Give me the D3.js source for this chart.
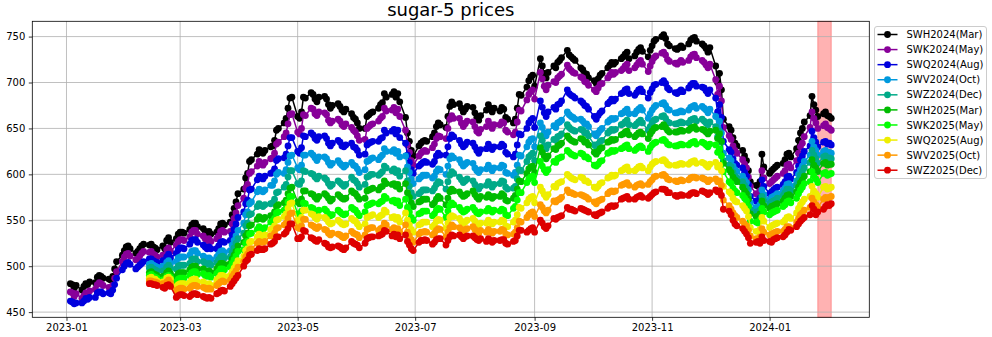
<!DOCTYPE html>
<html><head><meta charset="utf-8">
<script src="https://cdn.jsdelivr.net/npm/d3@7"></script>
<style>
body{margin:0;background:#fff}
svg{display:block}
text{font-family:"DejaVu Sans",sans-serif}
</style>
</head><body>
<svg id="chart" width="992" height="337"></svg>
<script>
const titleText = "sugar-5 prices";
const seriesNames = ["SWH2024(Mar)","SWK2024(May)","SWQ2024(Aug)","SWV2024(Oct)","SWZ2024(Dec)","SWH2025(Mar)","SWK2025(May)","SWQ2025(Aug)","SWV2025(Oct)","SWZ2025(Dec)"];
const seriesColors = ["#000000","#880099","#0000dd","#0099dd","#00aa88","#00bb00","#00ff00","#eeee00","#ff9900","#dd0000"];
const firstDay = "2023-01-03";   // first trading day (weekdays to lastDay)
const lastDay = "2024-02-02";
const spanStart = "2024-01-26";
const spanEnd = "2024-02-02";
const yTicks = [450,500,550,600,650,700,750];
const xTickLabels = ["2023-01","2023-03","2023-05","2023-07","2023-09","2023-11","2024-01"];

const SWH2024 = [
481,480,476,479, 474,478,481,480,483, 482,488,490,489,487, 486,485,489,497,505, 512,517,521,522,519,
514,516,519,522,524, 523,524,521,520,518, 522,519,528,531,526, 530,535,537,537,536, 540,545,547,547,543,
541,538,536,538,535, 537,541,546,547,545, 548,556,563,570,579, 584,596,601,614,616, 622,627,624,623,626,
630,631,637,648,650, 656,661,672,683,684, 663,661,668,684,683, 689,687,682,679,684, 685,682,676,672,675,
677,674,670,668,671, 666,662,660,656,650, 650,663,665,667,668, 672,676,678,688,684, 687,690,684,688,679,
662,645,636,626,620, 631,634,636,637,636, 641,645,652,656,654, 651,663,674,679,676, 677,672,668,671,674,
673,667,662,659,664, 670,676,672,668,672, 669,673,671,662,660, 656,660,672,687,686, 695,702,706,708,696,
726,718,710,705,711, 718,716,722,724,727, 735,730,728,726,724, 716,714,710,709,705, 702,699,704,708,710,
716,719,722,720,722, 726,728,731,733,726, 729,733,736,738,734, 728,735,740,745,747, 750,752,748,742,740,
737,736,738,740,738, 742,746,748,749,745, 742,740,737,733,738, 718,700,710,692,660, 652,648,640,634,631,
626,620,615,604,592, 588,587,592,622,608, 601,604,606,608,610, 612,616,622,623,619, 628,637,645,650,657,
664,685,676,670,663, 666,668,664,663,661
];
const SWK2024 = [
472,471,467,470, 465,468,471,470,473, 475,480,482,481,479, 477,476,479,487,494, 505,510,513,514,511,
507,508,511,514,516, 515,516,513,512,510, 512,510,518,520,516, 523,527,529,529,528, 532,537,539,539,535,
533,530,528,530,527, 530,533,538,539,537, 538,546,552,558,566, 574,585,589,601,603, 609,614,611,610,613,
617,618,623,633,635, 641,645,655,665,666, 646,644,650,665,664, 672,671,666,664,668, 667,665,659,656,658,
660,658,654,652,655, 651,648,646,642,637, 638,650,652,654,655, 658,661,663,672,669, 670,673,667,671,663,
648,632,624,615,610, 620,623,625,626,625, 629,633,639,642,641, 639,650,660,664,661, 661,656,652,655,658,
657,652,647,645,649, 652,658,654,650,654, 654,657,656,648,646, 643,646,657,670,669, 681,687,690,692,682,
711,704,696,692,697, 701,700,705,707,709, 719,715,713,711,710, 706,705,701,700,697, 692,690,694,698,699,
705,708,711,709,711, 713,715,718,720,713, 716,719,722,724,720, 712,718,723,727,729, 732,733,730,725,723,
721,720,722,724,722, 724,728,730,731,727, 724,722,719,716,720, 703,687,696,680,651, 642,638,631,626,623,
616,611,607,597,587, 579,578,582,604,596, 590,592,594,596,598, 601,604,610,611,607, 615,623,630,634,641,
651,668,661,656,650, 653,655,651,650,648
];
const SWQ2024 = [
462,461,459,460, 460,462,465,464,466, 466,471,472,472,470, 471,470,474,480,487, 496,500,503,504,502,
497,499,501,503,505, 508,508,506,505,504, 506,503,510,513,509, 514,518,520,520,519, 524,528,529,529,526,
523,521,519,521,519, 519,522,526,527,526, 528,534,540,546,553, 559,568,572,583,584, 594,598,596,595,598,
601,602,606,615,617, 618,622,631,640,640, 625,623,629,642,641, 645,643,639,637,641, 642,639,634,631,634,
637,635,631,630,632, 634,630,629,626,621, 622,632,634,635,636, 636,639,640,648,645, 647,649,644,648,640,
634,621,613,605,601, 609,611,613,614,613, 611,614,620,623,621, 621,630,639,643,641, 637,633,630,632,635,
634,630,626,623,627, 628,633,630,627,630, 630,633,631,624,622, 619,622,632,644,643, 650,656,659,661,651,
680,673,667,663,668, 673,671,676,677,680, 692,688,686,685,683, 680,678,675,674,671, 663,660,664,667,669,
677,679,682,680,682, 688,689,692,693,688, 686,689,692,693,690, 683,689,693,697,698, 700,702,699,694,692,
689,688,690,692,690, 694,697,699,699,696, 695,694,691,688,692, 683,668,676,662,636, 627,624,617,612,610,
607,602,598,589,576, 571,570,574,594,587, 579,581,583,585,586, 589,592,597,598,595, 602,609,616,620,625,
631,647,640,635,630, 635,636,633,634,632
];
const SWV2024 = [
502,503,501,500,499, 500,498,504,506,503, 505,509,510,510,510, 512,516,517,517,514, 511,509,508,509,507,
510,513,516,517,515, 517,523,528,533,539, 547,556,559,568,570, 581,584,582,581,583, 588,588,593,600,602,
601,605,613,620,621, 607,605,610,621,621, 623,621,618,615,619, 619,617,613,610,612, 615,612,610,608,610,
613,610,609,606,602, 605,614,615,617,618, 616,619,621,628,625, 625,627,623,625,619, 620,608,602,595,590,
595,597,599,599,599, 596,598,603,606,605, 600,609,617,620,618, 616,612,609,611,613, 612,607,604,602,605,
606,610,607,604,607, 607,610,609,602,601, 599,602,610,621,620, 630,635,638,639,630, 656,651,645,642,646,
653,651,656,657,659, 668,665,663,662,660, 660,658,655,655,652, 644,642,645,648,650, 657,659,661,660,661,
666,667,669,671,666, 666,669,671,673,670, 661,666,670,673,675, 677,678,675,671,670, 667,667,668,669,668,
670,673,674,675,672, 674,672,670,667,671, 663,651,658,645,623, 618,615,609,605,603, 598,594,591,583,569,
564,564,567,583,578, 572,575,576,577,579, 582,585,589,590,587, 593,600,605,609,614, 621,636,630,626,621,
625,626,623,624,623
];
const SWZ2024 = [
498,499,497,496,495, 495,493,499,501,498, 497,500,501,501,501, 503,507,508,508,505, 505,503,502,503,501,
504,507,510,511,509, 510,515,520,525,530, 536,544,547,556,557, 565,568,566,565,567, 568,569,573,580,581,
586,589,597,604,604, 590,589,593,604,603, 601,600,597,595,598, 596,594,590,587,589, 593,591,589,587,589,
597,594,593,590,586, 589,597,598,600,600, 599,601,603,609,607, 604,606,602,604,598, 604,593,587,580,576,
579,581,583,583,583, 582,585,589,592,591, 584,592,599,603,601, 597,594,591,593,595, 593,589,586,584,587,
588,592,589,586,589, 590,593,592,586,584, 585,587,595,605,604, 614,619,621,623,615, 642,637,631,628,632,
638,637,641,642,644, 654,651,649,648,647, 649,648,645,645,642, 632,630,633,636,637, 645,647,649,648,649,
654,655,657,659,654, 653,655,657,659,656, 648,652,656,659,660, 663,664,661,657,656, 655,655,656,657,656,
656,659,660,661,658, 660,658,656,654,657, 652,641,647,635,615, 610,608,602,598,596, 592,588,585,577,562,
559,558,561,576,572, 568,570,571,572,574, 577,580,584,584,582, 588,594,599,603,607, 613,626,621,617,612,
619,620,617,618,617
];
const SWH2025 = [
493,494,492,491,490, 489,487,493,495,492, 489,492,493,493,493, 496,499,500,500,497, 497,495,494,495,493,
497,500,503,503,502, 503,508,512,516,522, 526,533,536,544,545, 551,554,552,551,553, 555,555,559,565,567,
569,572,579,585,586, 570,568,573,582,582, 579,578,575,573,576, 579,577,574,571,573, 578,576,574,573,574,
582,580,579,576,573, 574,582,583,584,585, 583,586,587,593,590, 589,590,587,589,584, 590,580,575,569,565,
570,571,573,573,573, 567,569,573,576,574, 567,574,581,584,582, 581,578,576,577,579, 582,578,575,573,576,
575,578,576,574,576, 576,579,577,572,571, 574,577,584,593,592, 601,606,608,609,602, 629,624,620,617,620,
628,627,631,632,634, 642,639,637,636,635, 639,638,635,635,632, 624,622,625,628,629, 635,636,638,637,638,
643,644,646,647,643, 641,643,645,646,644, 639,644,647,650,651, 652,654,651,648,646, 646,646,647,648,647,
648,650,651,652,649, 649,648,646,644,647, 648,639,644,636,612, 605,602,597,594,592, 586,582,579,573,557,
554,554,557,571,566, 563,565,566,567,568, 571,574,577,578,576, 581,586,591,594,598, 603,616,610,607,603,
612,613,610,611,611
];
const SWK2025 = [
490,491,489,488,487, 485,484,489,490,488, 483,486,487,487,487, 490,493,494,494,491, 492,490,489,490,488,
492,494,497,497,496, 499,503,507,511,516, 518,525,527,535,536, 540,543,541,540,542, 548,549,552,558,559,
561,563,570,576,576, 557,556,560,569,568, 564,563,560,558,561, 562,560,557,555,556, 561,559,557,556,557,
564,562,561,558,555, 559,566,567,568,569, 568,570,571,576,574, 571,572,569,571,566, 573,564,559,553,550,
557,558,560,560,560, 555,557,561,563,562, 553,560,566,569,567, 564,561,559,560,562, 564,561,558,557,559,
560,563,561,559,561, 560,562,561,556,555, 563,565,572,580,580, 591,595,597,598,591, 614,609,605,602,605,
614,613,617,618,619, 626,624,622,621,620, 623,622,619,619,617, 610,609,611,614,615, 623,624,626,625,626,
628,629,631,632,628, 626,628,630,631,629, 625,629,632,634,635, 637,638,636,633,632, 631,631,632,633,632,
632,634,635,636,633, 635,634,632,630,633, 632,624,628,620,603, 592,590,585,582,580, 577,574,571,565,549,
548,547,550,563,559, 556,558,559,560,561, 565,567,570,571,569, 574,579,583,586,590, 592,603,598,595,591,
601,602,599,600,601
];
const SWQ2025 = [
487,488,486,486,484, 483,482,487,488,486, 477,480,481,481,481, 482,485,486,486,483, 483,481,480,481,479,
485,487,490,490,489, 490,494,498,502,506, 511,517,519,526,527, 532,535,533,532,534, 540,541,544,550,551,
554,557,563,568,569, 550,549,553,561,561, 557,556,553,551,554, 553,551,548,546,547, 550,548,546,545,546,
552,550,549,546,543, 546,553,554,555,556, 553,555,556,561,559, 553,554,551,553,548, 558,550,545,540,537,
545,546,548,548,548, 543,545,549,551,550, 541,547,553,555,554, 552,549,547,548,550, 552,549,546,545,547,
547,550,548,546,548, 548,550,549,544,543, 548,550,556,564,563, 569,573,575,576,569, 586,582,578,575,578,
587,586,590,591,592, 600,598,596,595,594, 597,596,593,593,591, 586,585,587,590,591, 596,597,599,598,599,
604,605,607,608,604, 604,606,608,609,607, 604,608,611,613,614, 615,616,614,611,610, 610,610,611,612,611,
611,613,614,615,612, 613,612,610,608,611, 613,608,610,604,587, 581,579,574,571,570, 566,563,560,554,542,
538,538,540,553,549, 542,544,545,546,547, 548,550,553,554,552, 558,563,567,570,573, 576,587,582,579,575,
586,587,584,585,586
];
const SWV2025 = [
484,484,483,483,482, 481,479,483,485,482, 473,475,476,476,475, 476,478,479,479,478, 477,476,475,476,475,
479,481,483,484,483, 485,489,492,495,499, 505,510,513,518,519, 525,527,526,526,527, 533,533,536,541,542,
545,547,552,557,558, 542,541,544,551,551, 545,544,542,541,543, 540,539,536,534,536, 535,534,532,531,533,
538,536,535,534,531, 534,540,541,542,542, 539,541,542,547,545, 540,542,539,541,537, 545,537,533,529,526,
535,537,537,538,537, 534,536,539,541,540, 532,537,542,545,543, 542,540,538,540,541, 543,540,538,536,539,
537,540,538,536,538, 538,540,539,535,534, 535,537,542,549,548, 553,556,558,559,554, 567,564,560,558,561,
571,570,572,573,575, 583,580,580,579,578, 578,577,576,575,573, 570,568,571,572,573, 579,581,582,581,582,
588,589,590,591,588, 586,588,589,590,588, 589,592,594,597,598, 599,600,598,595,594, 593,592,593,594,593,
594,596,597,597,596, 596,595,594,592,594, 595,592,593,588,572, 566,562,558,555,553, 549,546,544,539,533,
530,530,532,541,537, 534,535,536,537,538, 538,540,543,543,541, 548,552,556,558,561, 564,574,570,567,564,
573,575,574,575,576
];
const SWZ2025 = [
481,481,480,480,479, 477,476,479,480,478, 466,468,469,469,468, 467,469,470,470,469, 467,466,465,466,465,
470,471,473,474,473, 478,481,484,487,490, 500,505,507,512,513, 517,519,518,518,519, 524,525,527,532,532,
535,537,541,546,546, 530,530,532,539,538, 531,530,528,527,529, 525,524,521,520,521, 522,521,519,518,520,
527,525,524,523,520, 525,530,531,532,532, 533,534,535,539,538, 533,535,532,534,530, 534,527,523,519,517,
526,528,528,529,528, 524,526,529,530,530, 523,528,532,534,533, 534,532,530,532,533, 533,531,529,528,530,
527,530,528,526,528, 528,529,529,525,524, 527,528,533,539,539, 537,539,541,542,537, 550,547,543,541,544,
552,551,553,554,555, 564,562,562,561,560, 563,562,561,560,559, 556,555,557,558,559, 563,565,566,565,566,
573,574,575,576,573, 573,575,576,577,575, 574,576,578,580,581, 584,584,583,580,580, 577,576,577,578,577,
577,579,580,580,579, 582,581,580,578,580, 583,581,582,577,562, 560,556,550,546,544, 541,538,535,531,525,
526,527,525,532,528, 527,526,529,530,531, 532,534,537,540,539, 543,546,549,551,553, 556,566,562,556,559,
562,565,567,566,568
];
const seriesValues = [SWH2024,SWK2024,SWQ2024,SWV2024,SWZ2024,SWH2025,SWK2025,SWQ2025,SWV2025,SWZ2025];

// ---- build ----
const parseDay = d3.utcParse("%Y-%m-%d");
const parseMonth = d3.utcParse("%Y-%m");
const dates = d3.utcDay.range(parseDay(firstDay), d3.utcDay.offset(parseDay(lastDay), 1))
  .filter(d => d.getUTCDay() % 6 !== 0);

const series = seriesValues.map((vals, i) => {
  const ds = dates.slice(dates.length - vals.length);
  return { name: seriesNames[i], color: seriesColors[i], pts: vals.map((v, j) => ({ date: ds[j], v })) };
});

const L = 32.3, R = 869.3, T = 21.3, B = 317.3;
const MR = 3.4;
const svg = d3.select("#chart");

const t0 = dates[0], t1 = dates[dates.length - 1];
const dt = t1 - t0;
const x = d3.scaleUtc().domain([new Date(+t0 - 0.05 * dt), new Date(+t1 + 0.05 * dt)]).range([L, R]);
const allV = seriesValues.flat();
const vmin = d3.min(allV), vmax = d3.max(allV), vr = vmax - vmin;
const y = d3.scaleLinear().domain([vmin - 0.05 * vr, vmax + 0.05 * vr]).range([B, T]);

// span
svg.append("rect")
  .attr("x", x(parseDay(spanStart))).attr("y", T)
  .attr("width", x(parseDay(spanEnd)) - x(parseDay(spanStart))).attr("height", B - T)
  .attr("fill", "red").attr("fill-opacity", 0.3)
  .attr("stroke", "red").attr("stroke-opacity", 0.3).attr("stroke-width", 1);

// grid
const xTickDates = xTickLabels.map(s => parseMonth(s));
const grid = svg.append("g").attr("stroke", "#b0b0b0").attr("stroke-width", 0.8);
grid.selectAll("line.gx").data(xTickDates).join("line").attr("class", "gx")
  .attr("x1", d => x(d)).attr("x2", d => x(d)).attr("y1", T).attr("y2", B);
grid.selectAll("line.gy").data(yTicks).join("line").attr("class", "gy")
  .attr("x1", L).attr("x2", R).attr("y1", d => y(d)).attr("y2", d => y(d));

// series
const line = d3.line().x(d => x(d.date)).y(d => y(d.v));
const plot = svg.append("g");
series.forEach(s => {
  const g = plot.append("g");
  g.append("path").attr("d", line(s.pts)).attr("fill", "none")
    .attr("stroke", s.color).attr("stroke-width", 1.5).attr("stroke-linejoin", "round");
  g.selectAll("circle").data(s.pts).join("circle")
    .attr("cx", d => x(d.date)).attr("cy", d => y(d.v)).attr("r", MR).attr("fill", s.color);
});

// frame
svg.append("rect").attr("x", L).attr("y", T).attr("width", R - L).attr("height", B - T)
  .attr("fill", "none").attr("stroke", "#000").attr("stroke-width", 0.8);

// axes
const fmt = d3.utcFormat("%Y-%m");
const xAxis = d3.axisBottom(x).tickValues(xTickDates).tickFormat(fmt).tickSize(3.5).tickPadding(3.5);
const yAxis = d3.axisLeft(y).tickValues(yTicks).tickSize(3.5).tickPadding(3.5);
const gx = svg.append("g").attr("transform", `translate(0,${B})`).call(xAxis);
const gy = svg.append("g").attr("transform", `translate(${L},0)`).call(yAxis);
[gx, gy].forEach(g => {
  g.select(".domain").remove();
  g.selectAll("line").attr("stroke", "#000").attr("stroke-width", 0.8);
  g.selectAll("text").attr("font-size", 10).attr("fill", "#000").attr("font-family", "DejaVu Sans");
});

// title
svg.append("text").attr("x", (L + R) / 2).attr("y", 16).attr("text-anchor", "middle")
  .attr("font-size", 18).attr("fill", "#000").text(titleText);

// legend
const lg = svg.append("g");
lg.append("rect").attr("x", 874.5).attr("y", 26.5).attr("width", 112).attr("height", 152).attr("rx", 2.5)
  .attr("fill", "#fff").attr("fill-opacity", 0.8).attr("stroke", "#cccccc").attr("stroke-width", 1);
series.forEach((s, i) => {
  const yy = 34.5 + i * 15.08;
  lg.append("line").attr("x1", 877.5).attr("x2", 897.5).attr("y1", yy).attr("y2", yy)
    .attr("stroke", s.color).attr("stroke-width", 1.5);
  lg.append("circle").attr("cx", 887.5).attr("cy", yy).attr("r", MR).attr("fill", s.color);
  lg.append("text").attr("x", 906.5).attr("y", yy + 3.6).attr("font-size", 10).attr("fill", "#000").text(s.name);
});
</script>
</body></html>
